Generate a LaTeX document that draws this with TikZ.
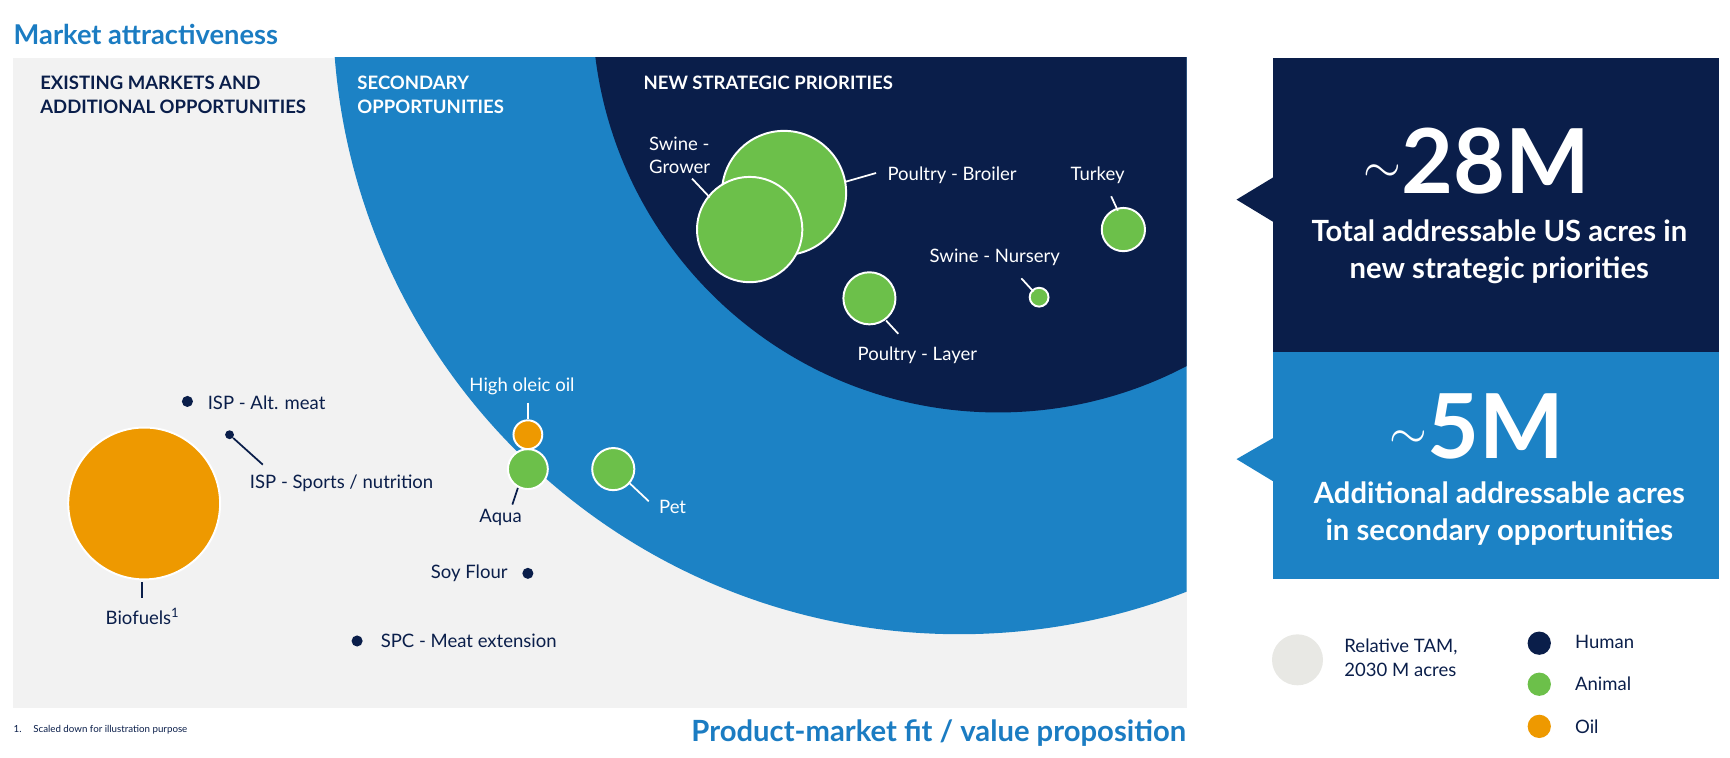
\documentclass[tikz,border=0pt]{standalone}
\usepackage{fontspec}
\setmainfont{Lato}
\definecolor{navy}{HTML}{0A1E4A}
\definecolor{mblue}{HTML}{1C82C5}
\definecolor{tblue}{HTML}{1B7CC2}
\definecolor{grn}{HTML}{6CC04A}
\definecolor{org}{HTML}{EE9900}
\definecolor{pgray}{HTML}{F2F2F2}
\definecolor{lgray}{HTML}{E8E8E4}
\begin{document}
\begin{tikzpicture}[x=0.02cm,y=-0.02cm,
  bub/.style={circle,draw=white,line width=1pt,inner sep=0pt},
  dot/.style={circle,fill=navy,inner sep=0pt,minimum size=0.2cm},
  lab/.style={font=\fontsize{9.5}{11}\selectfont,inner sep=0pt},
  hdr/.style={font=\bfseries\fontsize{9.5}{12.5}\selectfont,align=left,inner sep=0pt,anchor=north west},
  lead/.style={line width=0.9pt},
  big/.style={text=white,font=\bfseries\fontsize{15}{19}\selectfont,align=center,inner sep=0pt}]
\useasboundingbox (0,0) rectangle (1560,683.5);
\node[anchor=west,text=tblue,font=\bfseries\fontsize{14}{16}\selectfont,inner sep=0pt] (title) at (12,31) {Market attractiveness};
\fill[pgray] (12,52) rectangle (1070,638);
\begin{scope}
\clip (12,52) rectangle (1070,638);
\fill[mblue] (865,7) circle[radius=11.3cm];
\fill[navy] (900,6) circle[radius=7.32cm];
\end{scope}
\node[hdr,text=navy] (h1) at (36,68) {EXISTING MARKETS AND\\ADDITIONAL OPPORTUNITIES};
\node[hdr,text=white] (h2) at (322,68) {SECONDARY\\OPPORTUNITIES};
\node[hdr,text=white] (h3) at (580,68) {NEW STRATEGIC PRIORITIES};
% bubbles
\node[bub,fill=grn,minimum size=2.24cm] (broiler) at (707,174) {};
\node[bub,fill=grn,minimum size=1.9cm] (grower) at (676,207) {};
\node[bub,fill=grn,minimum size=0.78cm] (turkey) at (1013,207) {};
\node[bub,fill=grn,minimum size=0.34cm] (nursery) at (937,268) {};
\node[bub,fill=grn,minimum size=0.94cm] (layer) at (784,269) {};
\node[bub,fill=grn,minimum size=0.72cm] (aqua) at (476,423) {};
\node[bub,fill=org,minimum size=0.52cm] (oleic) at (476,392) {};
\node[bub,fill=grn,minimum size=0.76cm] (pet) at (553,423) {};
\node[bub,fill=org,minimum size=2.74cm] (bio) at (130,454) {};
\node[dot] (alt) at (169,362) {};
\node[dot,minimum size=0.16cm] (sports) at (207,392) {};
\node[dot] (soy) at (476,517) {};
\node[dot] (spc) at (322,578) {};
% labels
\node[lab,text=white,align=left,anchor=west] (lgrower) at (585,140) {Swine -\\[1pt]Grower};
\draw[white,lead] (624,161) -- (640,178);
\node[lab,text=white,anchor=west] (lbroiler) at (800,158) {Poultry - Broiler};
\draw[white,lead] (762,164) -- (790,156);
\node[lab,text=white,anchor=west] (lturkey) at (965,158) {Turkey};
\draw[white,lead] (1002,177) -- (1008,190);
\node[lab,text=white,anchor=west] (lnursery) at (838,232) {Swine - Nursery};
\draw[white,lead] (921,251) -- (932,263);
\node[lab,text=white,anchor=west] (llayer) at (773,320) {Poultry - Layer};
\draw[white,lead] (799,289) -- (810,301);
\node[lab,text=white,anchor=west] (loleic) at (423,348) {High oleic oil};
\draw[white,lead] (476,363) -- (476,378);
\node[lab,text=navy,anchor=west] (laqua) at (432,467) {Aqua};
\draw[navy,lead] (467,440) -- (462,455);
\node[lab,text=white,anchor=west] (lpet) at (594,457) {Pet};
\draw[white,lead] (568,436) -- (585,452);
\node[lab,text=navy,anchor=west] (lalt) at (187,363) {ISP - Alt. meat};
\node[lab,text=navy,anchor=west] (lsports) at (225,436) {ISP - Sports / nutrition};
\draw[navy,lead] (sports) -- (237,419);
\node[lab,text=navy,anchor=west] (lbio) at (95,556) {Biofuels\textsuperscript{1}};
\draw[navy,lead] (128,525) -- (128,539);
\node[lab,text=navy,anchor=east] (lsoy) at (458,517) {Soy Flour};
\node[lab,text=navy,anchor=west] (lspc) at (343,578) {SPC - Meat extension};
% right panels
\fill[navy] (1148,52) rectangle (1550,317);
\fill[mblue] (1148,317) rectangle (1550,522);
\fill[navy] (1148,160) -- (1115,180) -- (1148,200) -- cycle;
\fill[mblue] (1148,395) -- (1115,414) -- (1148,434) -- cycle;
\node[text=white,font=\bfseries\fontsize{46}{46}\selectfont,inner sep=0pt] (n28) at (1332,145) {\raisebox{0.12em}{\fontsize{30}{30}\selectfont$\sim$}28M};
\node[big] (t28) at (1352,227) {Total addressable US acres in\\new strategic priorities};
\node[text=white,font=\bfseries\fontsize{46}{46}\selectfont,inner sep=0pt] (n5) at (1332,385) {\raisebox{0.12em}{\fontsize{30}{30}\selectfont$\sim$}5M};
\node[big] (t5) at (1352,463) {Additional addressable acres\\in secondary opportunities};
% legend
\node[circle,fill=lgray,inner sep=0pt,minimum size=0.92cm] (ltam) at (1170,595) {};
\node[lab,text=navy,align=left,anchor=west] (ltamt) at (1212,593) {Relative TAM,\\[1pt]2030 M acres};
\node[circle,fill=navy,inner sep=0pt,minimum size=0.42cm] (lh) at (1388,580) {};
\node[circle,fill=grn,inner sep=0pt,minimum size=0.42cm] (la) at (1388,617) {};
\node[circle,fill=org,inner sep=0pt,minimum size=0.42cm] (lo) at (1388,655) {};
\node[lab,text=navy,anchor=west] (lht) at (1420,579) {Human};
\node[lab,text=navy,anchor=west] (lat) at (1420,617) {Animal};
\node[lab,text=navy,anchor=west] (lot) at (1420,655) {Oil};
% footer
\node[anchor=west,text=navy,font=\fontsize{5}{6}\selectfont,inner sep=0pt] (fn) at (12,658) {1.\hspace{1.2em}Scaled down for illustration purpose};
\node[anchor=east,text=tblue,font=\bfseries\fontsize{15}{17}\selectfont,inner sep=0pt] (xax) at (1070,661) {Product-market fit / value proposition};
\end{tikzpicture}
\end{document}
